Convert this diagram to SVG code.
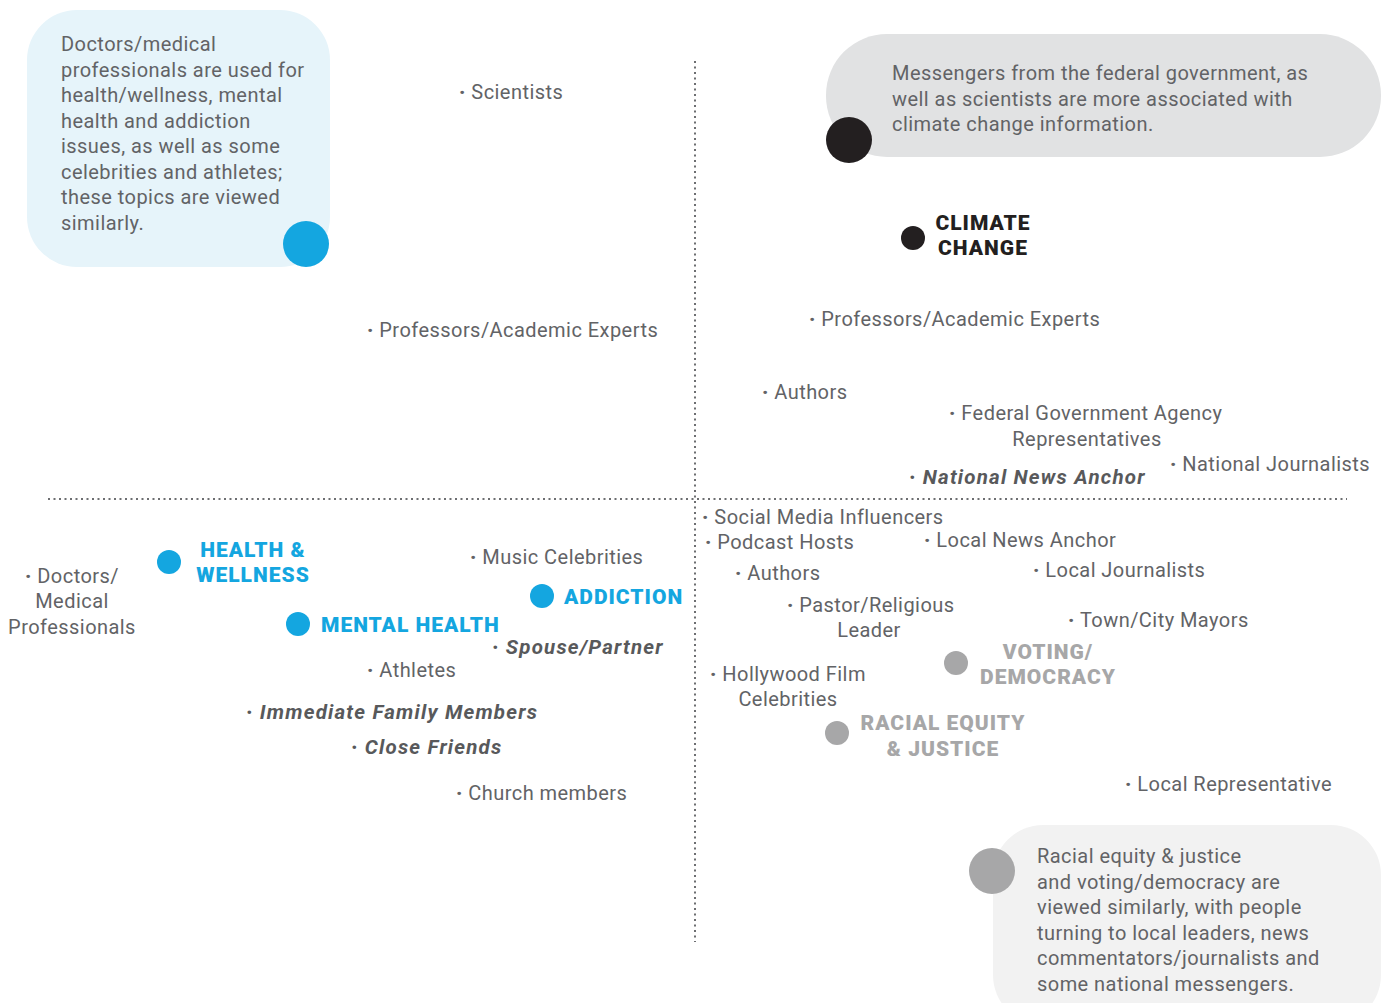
<svg xmlns="http://www.w3.org/2000/svg" width="1389" height="1003" viewBox="0 0 1389 1003">
<style>
text{font-family:Roboto,"Liberation Sans",sans-serif;font-size:20px;fill:#626366;letter-spacing:0.45px}
.c{text-anchor:middle}
.bi{font-weight:700;font-style:italic;fill:#58595b;font-size:20.5px;letter-spacing:1.2px}
.hb{font-weight:900;font-size:21px;fill:#14a6e0;letter-spacing:1px}
.hk{font-weight:900;font-size:21px;fill:#231f20;letter-spacing:1px}
.hg{font-weight:900;font-size:21px;fill:#a7a7a8;letter-spacing:1px}
.d{font-weight:900}
.axis{stroke:#6d6e71;stroke-width:2;stroke-dasharray:2 3.5;fill:none}
</style>
<rect width="1389" height="1003" fill="#fff"/>
<g id="axes">
<line class="axis" x1="695" y1="61" x2="695" y2="942"/>
<line class="axis" x1="48" y1="499" x2="1347" y2="499"/>
</g>
<g id="note-health">
<rect x="27" y="10" width="303" height="257" rx="50" fill="#e6f4fa"/>
<circle cx="306" cy="244" r="23" fill="#14a6e0"/>
<text x="61" y="51">Doctors/medical</text>
<text x="61" y="76.5">professionals are used for</text>
<text x="61" y="102">health/wellness, mental</text>
<text x="61" y="127.5">health and addiction</text>
<text x="61" y="153">issues, as well as some</text>
<text x="61" y="178.5">celebrities and athletes;</text>
<text x="61" y="204">these topics are viewed</text>
<text x="61" y="229.5">similarly.</text>
</g>
<g id="note-climate">
<rect x="826" y="34" width="555" height="123" rx="61" fill="#e1e2e3"/>
<circle cx="849" cy="140" r="23" fill="#231f20"/>
<text x="892" y="80">Messengers from the federal government, as</text>
<text x="892" y="105.5">well as scientists are more associated with</text>
<text x="892" y="131">climate change information.</text>
</g>
<g id="note-racial">
<rect x="993" y="825" width="388" height="200" rx="50" fill="#f2f2f2"/>
<circle cx="992" cy="871" r="23" fill="#a7a7a8"/>
<text x="1037" y="863">Racial equity &amp; justice</text>
<text x="1037" y="888.5">and voting/democracy are</text>
<text x="1037" y="914">viewed similarly, with people</text>
<text x="1037" y="939.5">turning to local leaders, news</text>
<text x="1037" y="965">commentators/journalists and</text>
<text x="1037" y="990.5">some national messengers.</text>
</g>
<g id="topic-climate">
<circle cx="913" cy="238" r="12" fill="#231f20"/>
<text class="hk c" x="983" y="230">CLIMATE</text>
<text class="hk c" x="983" y="255">CHANGE</text>
</g>
<g id="topic-health">
<circle cx="169" cy="562" r="12" fill="#14a6e0"/>
<text class="hb c" x="253" y="557">HEALTH &amp;</text>
<text class="hb c" x="253" y="582">WELLNESS</text>
</g>
<g id="topic-addiction">
<circle cx="542" cy="596" r="12" fill="#14a6e0"/>
<text class="hb" x="564" y="604">ADDICTION</text>
</g>
<g id="topic-mental">
<circle cx="298" cy="624" r="12" fill="#14a6e0"/>
<text class="hb" x="321" y="632">MENTAL HEALTH</text>
</g>
<g id="topic-voting">
<circle cx="956" cy="663" r="12" fill="#a7a7a8"/>
<text class="hg c" x="1048" y="659">VOTING/</text>
<text class="hg c" x="1048" y="684">DEMOCRACY</text>
</g>
<g id="topic-racial">
<circle cx="837" cy="733" r="12" fill="#a7a7a8"/>
<text class="hg c" x="943" y="730">RACIAL EQUITY</text>
<text class="hg c" x="943" y="756">&amp; JUSTICE</text>
</g>
<g id="messengers-tl">
<text x="459" y="99"><tspan class="d">·</tspan> Scientists</text>
<text x="367" y="337"><tspan class="d">·</tspan> Professors/Academic Experts</text>
</g>
<g id="messengers-tr">
<text x="809" y="326"><tspan class="d">·</tspan> Professors/Academic Experts</text>
<text x="762" y="399"><tspan class="d">·</tspan> Authors</text>
<text x="949" y="420"><tspan class="d">·</tspan> Federal Government Agency</text>
<text class="c" x="1087" y="446">Representatives</text>
<text x="1170" y="471"><tspan class="d">·</tspan> National Journalists</text>
<text class="bi" x="909" y="484"><tspan class="d">·</tspan> National News Anchor</text>
</g>
<g id="messengers-bl">
<text class="c" x="72" y="583"><tspan class="d">·</tspan> Doctors/</text>
<text class="c" x="72" y="608">Medical</text>
<text class="c" x="72" y="634">Professionals</text>
<text x="470" y="564"><tspan class="d">·</tspan> Music Celebrities</text>
<text class="bi" x="492" y="654"><tspan class="d">·</tspan> Spouse/Partner</text>
<text x="367" y="677"><tspan class="d">·</tspan> Athletes</text>
<text class="bi" x="246" y="719"><tspan class="d">·</tspan> Immediate Family Members</text>
<text class="bi" x="351" y="754"><tspan class="d">·</tspan> Close Friends</text>
<text x="456" y="800"><tspan class="d">·</tspan> Church members</text>
</g>
<g id="messengers-br">
<text x="702" y="524"><tspan class="d">·</tspan> Social Media Influencers</text>
<text x="705" y="549"><tspan class="d">·</tspan> Podcast Hosts</text>
<text x="924" y="547"><tspan class="d">·</tspan> Local News Anchor</text>
<text x="735" y="580"><tspan class="d">·</tspan> Authors</text>
<text x="1033" y="577"><tspan class="d">·</tspan> Local Journalists</text>
<text x="787" y="612"><tspan class="d">·</tspan> Pastor/Religious</text>
<text class="c" x="869" y="637">Leader</text>
<text x="1068" y="627"><tspan class="d">·</tspan> Town/City Mayors</text>
<text x="710" y="681"><tspan class="d">·</tspan> Hollywood Film</text>
<text class="c" x="788" y="706">Celebrities</text>
<text x="1125" y="791"><tspan class="d">·</tspan> Local Representative</text>
</g>
</svg>
